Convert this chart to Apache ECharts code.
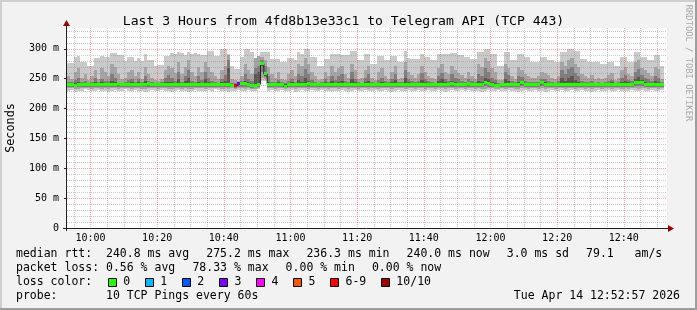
<!DOCTYPE html>
<html><head><meta charset="utf-8">
<script src="https://cdn.jsdelivr.net/npm/echarts@6/dist/echarts.min.js"></script>
<style>html,body{margin:0;padding:0;background:#f2f2f2}#c{width:697px;height:310px}</style>
</head><body><div id="c"></div><script>
// ---------------- data ----------------
const titleText = 'Last 3 Hours from 4fd8b13e33c1 to Telegram API (TCP 443)';
const yAxisName = 'Seconds';
const timeMin = 592.95, timeMax = 772.95;   // minutes since midnight (09:52:57 .. 12:52:57)
const firstStepStart = 593;                 // each sample covers one minute
const yMin = 0, yMax = 335;
const timeTicks = [600, 620, 640, 660, 680, 700, 720, 740, 760];
const timeTickLabels = ['10:00', '10:20', '10:40', '11:00', '11:20', '11:40', '12:00', '12:20', '12:40'];
const yTicks = [0, 50, 100, 150, 200, 250, 300];
const yTickLabels = ['0', '50 m', '100 m', '150 m', '200 m', '250 m', '300 m'];

// smoke: sorted ping rtts (ms), outermost pair to innermost
const pingHi1 = [276,276,286,288,278,278,272,272,284,284, 288,286,286,293,293,289,289,279,286,286, 279,284,279,292,282,282,272,273,273,288, 288,293,291,295,293,290,294,292,293,291, 290,290,297,297,288,288,299,299,292,272, 267,267,286,299,299,295,284,284,294,294, 295,283,283,283,278,278,284,284,281,295, 292,300,300,286,286,272,272,283,283,292, 292,292,289,289,289,297,297,281,281,292, 292,275,275,288,288,281,281,288,288,278, 278,297,284,283,283,283,292,286,286,281, 281,292,292,292,292,293,293,289,289,286, 286,283,283,295,295,300,300,292,292,272, 272,295,295,281,281,292,292,286,286,278, 278,278,286,286,281,281,278,278,295,295, 300,300,297,297,283,283,278,278,278,278, 275,275,278,278,272,272,286,286,278,278, 295,295,286,286,281,281,289,289,272];
const pingHi2 = [255,250,262,268,252,258,248,255,265,250, 268,262,255,275,270,258,250,252,262,265, 255,262,250,270,258,252,248,246,250,265, 272,268,260,278,258,270,282,262,255,270, 262,278,270,262,255,250,265,272,290,250, 248,247,255,275,265,258,285,288,286,282, 270,258,252,262,250,248,258,265,255,275, 272,285,275,262,255,248,250,262,255,272, 262,268,272,258,252,275,265,250,252,265, 272,252,248,262,268,255,250,262,272,250, 252,278,262,256,252,258,272,262,255,252, 250,268,275,262,258,272,265,260,256,252, 262,255,250,275,270,285,280,268,262,248, 248,275,268,255,250,270,265,258,255,252, 252,255,262,260,256,252,250,255,278,272, 282,285,275,270,258,255,252,256,250,252, 250,252,256,260,248,252,265,270,258,255, 278,282,268,265,260,255,270,266,250];
const pingHi3 = [244,245,248,252,244,246,243,244,252,245, 250,246,247,258,252,245,243,244,248,250, 245,250,244,255,247,244,243,243,244,252, 256,252,246,262,245,255,265,247,244,254, 248,262,252,247,244,243,250,256,282,243, 243,243,246,258,250,246,268,272,282,272, 254,245,244,248,244,243,247,250,245,258, 255,266,258,248,245,243,244,250,245,255, 248,254,258,246,244,262,250,244,243,252, 258,244,243,248,252,246,244,249,258,244, 244,265,250,246,244,247,260,250,246,244, 243,255,260,250,247,258,252,249,246,244, 250,246,244,258,254,268,262,252,248,243, 243,262,256,246,244,255,253,247,245,244, 244,244,250,249,247,244,243,246,265,258, 266,270,260,255,247,245,244,246,243,244, 243,245,246,248,243,244,252,256,248,246, 262,266,256,252,249,246,255,252,244];
const pingHi4 = [242,242,243,245,242,243,242,242,245,243, 244,242,243,247,244,242,242,242,243,244, 242,244,242,246,243,242,242,242,242,245, 245,244,243,250,242,246,252,243,242,245, 243,250,245,243,242,242,244,246,268,242, 241,242,243,246,244,242,258,262,278,262, 245,242,242,244,242,241,243,244,242,248, 245,252,247,243,242,242,242,244,242,246, 243,245,247,242,242,250,244,242,242,244, 247,242,242,243,244,242,242,244,248,242, 242,252,244,242,242,243,248,244,243,242, 242,246,249,244,243,247,244,243,242,242, 244,242,242,247,245,252,249,245,243,241, 242,250,246,243,242,245,246,243,242,242, 242,242,246,244,243,242,241,243,252,247, 252,255,248,245,243,242,242,243,242,242, 242,243,243,244,242,242,245,247,244,243, 250,253,248,245,243,242,246,244,242];
const pingLo4 = [239,239,237.5,239,239,238,239,239,239,238.5, 239,239,239,238,239,239,239,239,239,239, 239,238,239,239,239,239,239,238.5,239,239, 239,239,239,239,238,239,239,239,239,239, 239,239,239,238.5,239,239,239,239,238,237, 236,239,239,239,239,237,237,239,272,255, 239,239,239,239,239,236.5,239,239,239,239, 239,239,239,239,238,239,239,239,239,239, 239,239,239,238,239,239,239,239,239,239, 238.5,239,239,239,239,239,238,239,239,239, 239,239,239,239,239,239,239,238,239,239, 239,239,239,239,239,239,239,238,239,239, 239,239,238.5,239,239,241,239,239,237.5,237.5, 239,239,239,239,239,239,240.5,239,239,239, 239,239,240.5,239,239,239,238,239,239,239, 239,239,239,239,238,239,239,239,239,239, 239,239,239,239,239,238.5,239,239,239,239, 240.5,241,240.5,239,239,239,239,239,238.5];
const pingLo3 = [236.5,237,235.5,236,237,236,236.5,237,236,236.5, 236,237,236.5,235.5,236,237,236.5,236,237,236.5, 237,236,236.5,235.5,236,237,236.5,236,237,236, 236.5,236,237,236,235.5,236.5,236,237,236.5,236, 237,236,236.5,236,237,236.5,236,237,235.5,236, 234.5,237,236.5,236,237,235,235.5,237,262,253, 237,236.5,236,237,236,235,236.5,237,236,236.5, 236,237,236.5,236,235.5,237,236.5,236,237,236.5, 237,236,236.5,235.5,236,237,236.5,236,237,236.5, 236,237,236.5,236,237,236.5,235.5,236,237,236.5, 237,236,236.5,237,236,236.5,237,235.5,236,237, 236.5,237,236,236.5,237,236,236.5,235.5,236,237, 236,237,236,236.5,237,238,236.5,236,235.5,235.5, 236.5,237,236,236.5,237,236,238,236.5,236,237, 237,236.5,238,236,236.5,237,235.5,236,237,236.5, 236,237,236.5,236,235.5,237,236.5,236,237,236.5, 237,236,236.5,237,236,235.5,236.5,237,236,236.5, 238,238.5,238,236.5,237,236,236.5,237,236];
const pingLo2 = [234,234,232.5,233,234,235,234,233,234,235, 233,234,233,234,235,233,234,235,234,233, 235,234,233,232.5,234,235,234,233,235,234, 233,233,234,235,233,234,232.5,233,235,234, 234,233,235,234,235,235,233,234,232.5,234, 232,235,234,233,235,233,233,235,252,250, 234,235,233,234,235,232.5,234,235,232.5,234, 235,234,233,235,234,233,235,234,233,234, 234,233,235,234,232.5,234,235,233,234,235, 233,234,235,233,234,235,234,232.5,234,235, 234,233,235,234,233,235,234,233,235,234, 233,235,234,232.5,234,235,233,234,235,233, 235,234,233,234,232.5,233,235,234,233,233, 234,233,235,234,233,232.5,234,235,233,234, 235,233,234,232.5,234,235,233,234,235,233, 234,235,233,234,235,233,234,232.5,234,235, 233,234,235,233,234,235,233,234,233,235, 234,233,235,234,233,235,234,233,235];
const pingLo1 = [230,231,228,229,230,232,231,229,230,231, 229,230,228,230,231,229,230,232,230,229, 231,230,229,228,230,231,230,229,231,230, 229,228,230,231,229,230,228,229,231,230, 230,229,231,230,232,231,229,230,228,230, 229,231,230,229,231,230,229,232,247,246, 230,231,229,230,231,229,230,231,228,230, 231,230,229,231,230,229,231,230,229,230, 230,229,231,230,228,230,231,229,230,231, 229,230,231,229,230,231,230,228,230,231, 230,229,231,230,229,231,230,229,231,230, 229,231,230,228,230,231,229,230,231,229, 231,230,229,230,228,229,231,230,229,231, 230,229,231,230,229,228,230,231,229,230, 231,229,230,228,230,231,229,230,231,229, 230,231,229,230,231,229,230,228,230,231, 229,230,231,229,230,231,229,230,229,231, 230,229,231,230,229,231,230,229,231];
const medianRtt = [241,241,239,240.5,241,241,240.5,241,241,240.5, 241,241,240.5,241,241,241.5,241,241,240.5,241, 241,241,241,240.5,241.5,241,241,240.5,241,241, 241,240.5,241,241,241,240.5,241,241,241,240.5, 241,241,241,240.5,241,241,240.5,241,240,239.5, 238.5,241.8,241.5,241.5,241,238.5,238.5,241,275.2,258, 241,241,240.5,241,240.5,236.3,240.5,241,241,241, 241,241,241.5,241,240,240.5,241,241,241,241, 240.5,241,241,240,241,241,241,240.5,241,241, 240,241,241,241,241,241,240,241,241,241, 241,241,241,241,241,241,241,240.5,241,241, 241,241,241,240.5,241,241.5,241,240,241,241, 241.5,241,240.5,241,241,243.5,241.5,241,239,239, 241,241,241,241,241,241,243,241,241,241, 241,241,243,241,241,240.5,240,241,241,241, 241,241,241,241,240,241,241,241,241,241, 241,241,241,241,241,240.5,241,241,241,241, 243.5,243.5,243,241,241,241,241,241,240];
// pings lost out of 10 per step
const lossCount = [0,0,0,0,0,0,0,0,0,0, 0,0,0,0,0,0,0,0,0,0, 0,0,0,0,0,0,0,0,0,0, 0,0,0,0,0,0,0,0,0,0, 0,0,0,0,0,0,0,0,0,0, 7.83,2.5,0,0,0,0,0,0,0,0, 0,0,0,0,0,0,0,0,0,0, 0,0,0,0,0,0,0,0,0,0, 0,0,0,0,0,0,0,0,0,0, 0,0,0,0,0,0,0,0,0,0, 0,0,0,0,0,0,0,0,0,0, 0,0,0,0,0,0,0,0,0,0, 0,0,0,0,0,0,0,0,0,0, 0,0,0,0,0,0,0,0,0,0, 0,0,0,0,0,0,0,0,0,0, 0,0,0,0,0,0,0,0,0,0, 0,0,0,0,0,0,0,0,0,0, 0,0,0,0,0,0,0,0,0];

const smokeColors = ['#cacaca', '#a4a4a4', '#7e7e7e', '#585858'];
const lossLabels = ['0', '1', '2', '3', '4', '5', '6-9', '10/10'];
const lossColors = ['#26ff00', '#00b8ff', '#0059ff', '#7e00ff', '#ff00ff', '#ff5500', '#ff0000', '#a10000'];

const legendRtt = ['median rtt:  240.8 ms avg', '275.2 ms max', '236.3 ms min', '240.0 ms now', '3.0 ms sd', '79.1   am/s'];
const legendLoss = ['packet loss: 0.56 % avg', '78.33 % max', '0.00 % min', '0.00 % now'];
const legendLossTitle = 'loss color:';
const legendProbe = 'probe:       10 TCP Pings every 60s';
const dateText = 'Tue Apr 14 12:52:57 2026';

// ---------------- layout ----------------
const W = 697, H = 310;
const GL = 67, GT = 28, GW = 600, GH = 200;
const MONO = '"DejaVu Sans Mono", monospace';
const LEG_FONT = '11.5px ' + MONO;
const CH = 6.93, GAP = 17, LEG_X = 16;

function lossBucket(l) {
  if (l <= 0) return 0;
  if (l <= 1) return 1;
  if (l <= 2) return 2;
  if (l <= 3) return 3;
  if (l <= 4) return 4;
  if (l <= 5) return 5;
  if (l < 10) return 6;
  return 7;
}

const smokeData = medianRtt.map((m, i) => [firstStepStart + i, firstStepStart + i + 1,
  pingLo1[i], pingHi1[i], pingLo2[i], pingHi2[i], pingLo3[i], pingHi3[i], pingLo4[i], pingHi4[i]]);
const medianBandData = medianRtt.map((m, i) => [firstStepStart + i, firstStepStart + i + 1, m, lossBucket(lossCount[i])]);
const medianLineData = [];
medianRtt.forEach((m, i) => { medianLineData.push([firstStepStart + i, m], [firstStepStart + i + 1, m]); });

const vGrid = [];
for (let v = 595; v < timeMax; v += 5) vGrid.push([v, v % 20 === 0 ? 1 : 0]);
const hGrid = [];
for (let v = 10; v < yMax; v += 10) hGrid.push([v, v % 50 === 0 ? 1 : 0]);

const minorGridColor = 'rgba(135,135,135,0.45)';
const majorGridColor = 'rgba(255,40,40,0.42)';

const chart = echarts.init(document.getElementById('c'), null, { renderer: 'canvas' });

const graphics = [];
function txt(t, x, y, extra) {
  graphics.push(Object.assign({ type: 'text', x: x, y: y, z: 160,
    style: { text: t, font: LEG_FONT, fill: '#000', align: 'left', verticalAlign: 'middle' } }, extra || {}));
}
// frame
graphics.push({ type: 'rect', shape: { x: 0, y: 0, width: W, height: 2 }, style: { fill: '#cfcfcf' }, z: 200 });
graphics.push({ type: 'rect', shape: { x: 0, y: 0, width: 2, height: H }, style: { fill: '#cfcfcf' }, z: 200 });
graphics.push({ type: 'rect', shape: { x: 0, y: H - 2, width: W, height: 2 }, style: { fill: '#9e9e9e' }, z: 201 });
graphics.push({ type: 'rect', shape: { x: W - 2, y: 0, width: 2, height: H }, style: { fill: '#9e9e9e' }, z: 201 });
// axes
graphics.push({ type: 'line', shape: { x1: GL - 0.5, y1: GT - 3, x2: GL - 0.5, y2: GT + GH + 3 }, style: { stroke: '#202020', lineWidth: 1 }, z: 150 });
graphics.push({ type: 'line', shape: { x1: GL - 4, y1: GT + GH + 0.5, x2: GL + GW + 3, y2: GT + GH + 0.5 }, style: { stroke: '#202020', lineWidth: 1 }, z: 150 });
graphics.push({ type: 'polygon', shape: { points: [[GL - 0.5, GT - 8], [GL - 4, GT - 2], [GL + 3, GT - 2]] }, style: { fill: '#990000' }, z: 151 });
graphics.push({ type: 'polygon', shape: { points: [[GL + GW + 7, GT + GH + 0.5], [GL + GW + 1, GT + GH - 3], [GL + GW + 1, GT + GH + 4]] }, style: { fill: '#990000' }, z: 151 });
// title, axis name, watermark
graphics.push({ type: 'text', x: 343.5, y: 22, z: 160, style: { text: titleText, font: '13.1px ' + MONO, fill: '#000', align: 'center', verticalAlign: 'middle' } });
graphics.push({ type: 'text', x: 11, y: GT + GH / 2, rotation: Math.PI / 2, z: 160, style: { text: yAxisName, font: '11.8px ' + MONO, fill: '#000', align: 'center', verticalAlign: 'middle' } });
graphics.push({ type: 'text', x: 688.5, y: 63, rotation: -Math.PI / 2, z: 160, style: { text: 'RRDTOOL / TOBI OETIKER', font: '8.8px ' + MONO, fill: '#aaaaaa', align: 'center', verticalAlign: 'middle' } });
// legend rows (rrdtool style: items separated by a fixed gap)
function legendRow(items, y) {
  let x = LEG_X;
  items.forEach(t => { txt(t, x, y); x += t.length * CH + GAP; });
}
legendRow(legendRtt, 254.3);
legendRow(legendLoss, 268.3);
txt(legendLossTitle, LEG_X, 282);
{
  let x = 108.3;
  lossLabels.forEach((lab, k) => {
    graphics.push({ type: 'rect', shape: { x: Math.round(x) + 0.5, y: 278.5, width: 8, height: 8 }, style: { fill: lossColors[k], stroke: '#000', lineWidth: 1 }, z: 160 });
    txt(lab, x + 15, 282);
    x += 13.1 + lab.length * CH + GAP;
  });
}
txt(legendProbe, LEG_X, 296);
txt(dateText, 680, 296, { style: { text: dateText, font: LEG_FONT, fill: '#000', align: 'right', verticalAlign: 'middle' } });

const option = {
  animation: false,
  backgroundColor: '#f2f2f2',
  grid: { left: GL, top: GT, width: GW, height: GH, show: true, backgroundColor: '#ffffff', borderWidth: 0 },
  xAxis: {
    type: 'value', min: timeMin, max: timeMax,
    axisLine: { show: false }, axisTick: { show: false }, splitLine: { show: false },
    axisLabel: { customValues: timeTicks, formatter: v => timeTickLabels[timeTicks.indexOf(v)] || '',
      fontFamily: 'DejaVu Sans Mono', fontSize: 10, color: '#000', margin: 5 }
  },
  yAxis: {
    type: 'value', min: yMin, max: yMax,
    axisLine: { show: false }, splitLine: { show: false },
    axisTick: { show: true, customValues: yTicks, length: 3, lineStyle: { color: '#202020' } },
    axisLabel: { customValues: yTicks, formatter: v => yTickLabels[yTicks.indexOf(v)] || '',
      fontFamily: 'DejaVu Sans Mono', fontSize: 10, color: '#000', margin: 8 }
  },
  graphic: { elements: graphics },
  series: [
    {
      type: 'custom', name: 'smoke', z: 2, silent: true, clip: true,
      data: smokeData, encode: { x: [0, 1], y: [2, 3, 4, 5, 6, 7, 8, 9] },
      renderItem: (params, api) => {
        const x0 = api.value(0), x1 = api.value(1);
        const children = [];
        for (let b = 0; b < 4; b++) {
          const lo = api.value(2 + 2 * b), hi = api.value(3 + 2 * b);
          const p0 = api.coord([x0, hi]), p1 = api.coord([x1, lo]);
          const L = Math.round(p0[0]), R = Math.round(p1[0]);
          const T = Math.round(p0[1]), B = Math.round(p1[1]);
          if (B > T) children.push({ type: 'rect', shape: { x: L, y: T, width: R - L, height: B - T }, style: { fill: smokeColors[b] } });
        }
        return { type: 'group', children };
      }
    },
    {
      type: 'custom', name: 'vgrid', z: 3, silent: true,
      data: vGrid, encode: { x: 0 },
      renderItem: (params, api) => {
        const v = api.value(0), major = api.value(1);
        const top = api.coord([v, yMax]), bot = api.coord([v, yMin]);
        const x = Math.round(top[0]) + 0.5;
        return { type: 'line', shape: { x1: x, y1: top[1], x2: x, y2: bot[1] },
          style: { stroke: major ? majorGridColor : minorGridColor, lineWidth: 1, lineDash: [1, 1] } };
      }
    },
    {
      type: 'custom', name: 'hgrid', z: 3, silent: true,
      data: hGrid, encode: { y: 0 },
      renderItem: (params, api) => {
        const v = api.value(0), major = api.value(1);
        const l = api.coord([timeMin, v]), r = api.coord([timeMax, v]);
        const y = Math.round(l[1]) + 0.5;
        return { type: 'line', shape: { x1: l[0], y1: y, x2: r[0], y2: y },
          style: { stroke: major ? majorGridColor : minorGridColor, lineWidth: 1, lineDash: [1, 1] } };
      }
    },
    {
      type: 'line', name: 'median', z: 4, silent: true, data: medianLineData,
      symbol: 'none', showSymbol: false, lineStyle: { color: '#202020', width: 1 }
    },
    {
      type: 'custom', name: 'medianLoss', z: 5, silent: true,
      data: medianBandData, encode: { x: [0, 1], y: 2 },
      renderItem: (params, api) => {
        const x0 = api.value(0), x1 = api.value(1), m = api.value(2), c = api.value(3);
        const p0 = api.coord([x0, m]), p1 = api.coord([x1, m]);
        const L = Math.round(p0[0]), R = Math.round(p1[0]);
        const T = Math.round(p0[1] - 1.5);
        return { type: 'rect', shape: { x: L, y: T, width: R - L, height: 3 }, style: { fill: lossColors[c] } };
      }
    }
  ]
};
chart.setOption(option);
</script></body></html>
